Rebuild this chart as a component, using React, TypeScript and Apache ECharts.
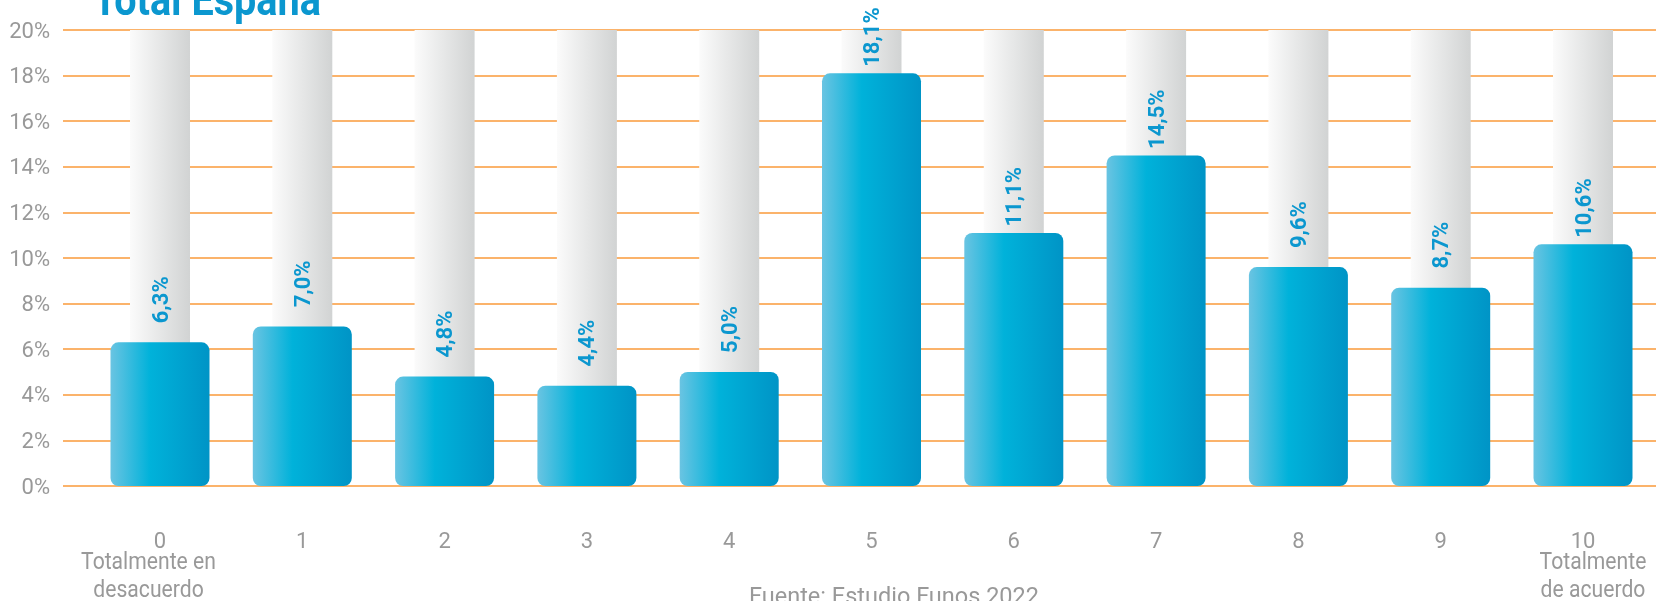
import React, { useEffect, useRef } from "react";
import * as echarts from "echarts";

const categories = ["0", "1", "2", "3", "4", "5", "6", "7", "8", "9", "10"];
const values = [6.3, 7.0, 4.8, 4.4, 5.0, 18.1, 11.1, 14.5, 9.6, 8.7, 10.6];
const backgroundValues = [20, 20, 20, 20, 20, 20, 20, 20, 20, 20, 20];
const yTicks = { min: 0, max: 20, interval: 2 };
const title = "Total España";
const leftNote = "Totalmente en\ndesacuerdo";
const rightNote = "Totalmente\nde acuerdo";
const source = "Fuente: Estudio Funos 2022";

const GREY = "#999999";
const BLUE_TEXT = "#0b97cf";

export default function App() {
  const ref = useRef<HTMLDivElement>(null);
  useEffect(() => {
    if (!ref.current) return;
    const chart = echarts.init(ref.current, undefined, { renderer: "svg" });
    const top = 30;
    const bottom = 115;
    chart.setOption({
      animation: false,
      textStyle: { fontFamily: "Roboto" },
      grid: [
        { left: 63, right: 0, top, bottom },
        { left: 88.85, right: 1.85, top, bottom },
      ],
      xAxis: [
        { type: "value", gridIndex: 0, show: false, min: 0, max: 1 },
        {
          type: "category",
          gridIndex: 1,
          data: categories,
          show: false,
        },
        {
          type: "category",
          gridIndex: 1,
          data: categories,
          position: "bottom",
          axisLine: { show: false },
          axisTick: { show: false },
          axisLabel: {
            color: GREY,
            fontSize: 22,
            fontFamily: "Roboto",
            margin: 43,
          },
        },
      ],
      yAxis: [
        {
          type: "value",
          gridIndex: 0,
          min: yTicks.min,
          max: yTicks.max,
          interval: yTicks.interval,
          axisLine: { show: false },
          axisTick: { show: false },
          axisLabel: {
            formatter: (v: number) => `${v}%`,
            color: GREY,
            fontSize: 22,
            fontFamily: "Roboto",
            margin: 13,
          },
          splitLine: { lineStyle: { color: "#fbb36b", width: 2 } },
        },
        {
          type: "value",
          gridIndex: 1,
          min: yTicks.min,
          max: yTicks.max,
          interval: yTicks.interval,
          show: false,
          splitLine: { show: false },
        },
      ],
      series: [
        {
          type: "bar",
          xAxisIndex: 1,
          yAxisIndex: 1,
          data: backgroundValues,
          barWidth: 60,
          silent: true,
          itemStyle: {
            color: new echarts.graphic.LinearGradient(0, 0, 1, 0, [
              { offset: 0, color: "#fbfbfb" },
              { offset: 1, color: "#d1d3d3" },
            ]),
          },
          z: 2,
        },
        {
          type: "bar",
          xAxisIndex: 2,
          yAxisIndex: 1,
          data: values,
          barWidth: 99,
          itemStyle: {
            borderRadius: 8,
            color: new echarts.graphic.LinearGradient(0, 0, 1, 0, [
              { offset: 0, color: "#6ac4e2" },
              { offset: 0.4, color: "#00b2da" },
              { offset: 1, color: "#0094c6" },
            ]),
          },
          label: {
            show: true,
            position: "top",
            distance: 66,
            rotate: 90,
            align: "right",
            verticalAlign: "middle",
            color: BLUE_TEXT,
            fontSize: 22,
            fontWeight: "bold",
            fontFamily: "Roboto",
            formatter: (p: any) => `${p.value.toFixed(1).replace(".", ",")}%`,
          },
          z: 3,
        },
      ],
      graphic: [
        {
          type: "text",
          x: 93,
          y: 0,
          scaleX: 0.9,
          style: {
            text: title,
            fill: BLUE_TEXT,
            fontSize: 44,
            fontWeight: "bold",
            fontFamily: "Roboto",
            align: "left",
            verticalAlign: "middle",
          },
        },
        {
          type: "text",
          x: 148.5,
          y: 547.5,
          scaleX: 0.92,
          style: {
            text: leftNote,
            fill: GREY,
            fontSize: 23,
            lineHeight: 28,
            fontFamily: "Roboto",
            align: "center",
            verticalAlign: "top",
          },
        },
        {
          type: "text",
          x: 1593,
          y: 547.5,
          scaleX: 0.92,
          style: {
            text: rightNote,
            fill: GREY,
            fontSize: 23,
            lineHeight: 28,
            fontFamily: "Roboto",
            align: "center",
            verticalAlign: "top",
          },
        },
        {
          type: "text",
          x: 894,
          y: 596,
          style: {
            text: source,
            fill: GREY,
            fontSize: 23.5,
            fontFamily: "Roboto",
            align: "center",
            verticalAlign: "middle",
          },
        },
      ],
    });
    return () => chart.dispose();
  }, []);
  return (
    <div
      ref={ref}
      style={{ position: "fixed", left: 0, top: 0, width: 1656, height: 601 }}
    />
  );
}
